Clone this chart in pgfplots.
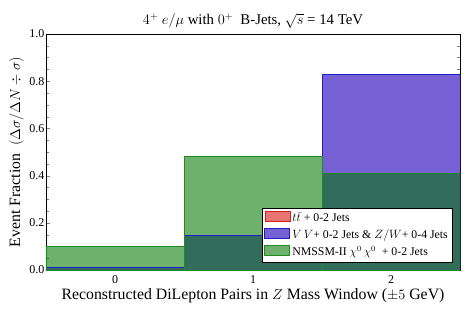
\documentclass[border=0pt]{standalone}
\usepackage{fontspec}
\setmainfont{Liberation Serif}
\usepackage{pgfplots}
\pgfplotsset{compat=1.18}
\definecolor{ttred}{RGB}{225,70,70}
\definecolor{ttredE}{RGB}{210,30,30}
\definecolor{vvblue}{RGB}{118,98,212}
\definecolor{vvblueE}{RGB}{30,30,200}
\definecolor{nmgreen}{RGB}{0,118,0}
\definecolor{nmgreenE}{RGB}{30,140,30}
\begin{document}
\begin{tikzpicture}
\begin{axis}[
  name=ax,
  scale only axis,
  width=414pt, height=236pt,
  xmin=-0.5, xmax=2.5, ymin=0, ymax=1,
  xtick={0,1,2},
  xticklabels={0,1,2},
  major x tick style={draw=none},
  extra x ticks={0.5,1.5},
  extra x tick labels={},
  extra x tick style={major tick length=4pt, tick style={draw=black}},
  ytick={0,0.2,0.4,0.6,0.8,1.0},
  minor y tick num=3,
  /pgf/number format/fixed, /pgf/number format/fixed zerofill, /pgf/number format/precision=1,
  /pgf/number format/assume math mode=true,
  tick label style={font=\fontsize{12}{13}\selectfont},
  xticklabel style={yshift=-2pt},
  yticklabel style={xshift=2pt},
  tick align=inside,
  title={$4^+\ e/\mu$ with $0^+$\ \ B-Jets, $\sqrt{s}$ = 14 TeV},
  title style={font=\fontsize{14.8}{16}\selectfont, yshift=-4pt},
  xlabel={Reconstructed DiLepton Pairs in $Z$ Mass Window ($\pm5$ GeV)},
  ylabel={Event Fraction\ \ $(\Delta\sigma/\Delta N\div\sigma)$},
  label style={font=\fontsize{15.8}{17}\selectfont},
  xlabel style={yshift=2pt},
  ylabel style={yshift=-1pt},
  legend style={at={(0.982,0.034)}, anchor=south east, font=\fontsize{11.8}{13}\selectfont,
    draw=black, fill=white, row sep=2.5pt, inner sep=2.5pt},
  legend cell align=left,
  legend image code/.code={\path[#1, draw opacity=1] (0pt,-4pt) rectangle (25pt,6pt);},
  axis line style={black},
]
\addplot[ybar interval, draw=ttredE, fill=ttred, fill opacity=0.75, line width=0.8pt]
  coordinates {(-0.5,0) (0.5,0) (1.5,0) (2.5,0)};
\addlegendentry{$t\bar{t}$ + 0-2 Jets}
\addplot[ybar interval, draw=vvblueE, fill=vvblue, line width=0.9pt]
  coordinates {(-0.5,0.009) (0.5,0.148) (1.5,0.830) (2.5,0.830)};
\addlegendentry{$V\,V$+ 0-2 Jets \& $Z/W$+ 0-4 Jets}
\addplot[ybar interval, draw=nmgreenE, fill=nmgreen, fill opacity=0.57, line width=0.9pt]
  coordinates {(-0.5,0.101) (0.5,0.483) (1.5,0.407) (2.5,0.407)};
\addlegendentry{NMSSM-II $\chi^0\,\chi^0$\ \ + 0-2 Jets}
\addplot[ybar interval, draw=vvblueE, fill=none, line width=0.9pt, forget plot]
  coordinates {(-0.5,0.009) (0.5,0.148) (1.5,0.830) (2.5,0.830)};
\addplot[ybar interval, draw=nmgreenE, fill=none, line width=0.9pt, forget plot]
  coordinates {(-0.5,0.101) (0.5,0.483) (1.5,0.407) (2.5,0.407)};
\end{axis}
\path ([shift={(-46pt,-44pt)}]ax.south west) rectangle ([shift={(11pt,34pt)}]ax.north east);
\end{tikzpicture}
\end{document}
